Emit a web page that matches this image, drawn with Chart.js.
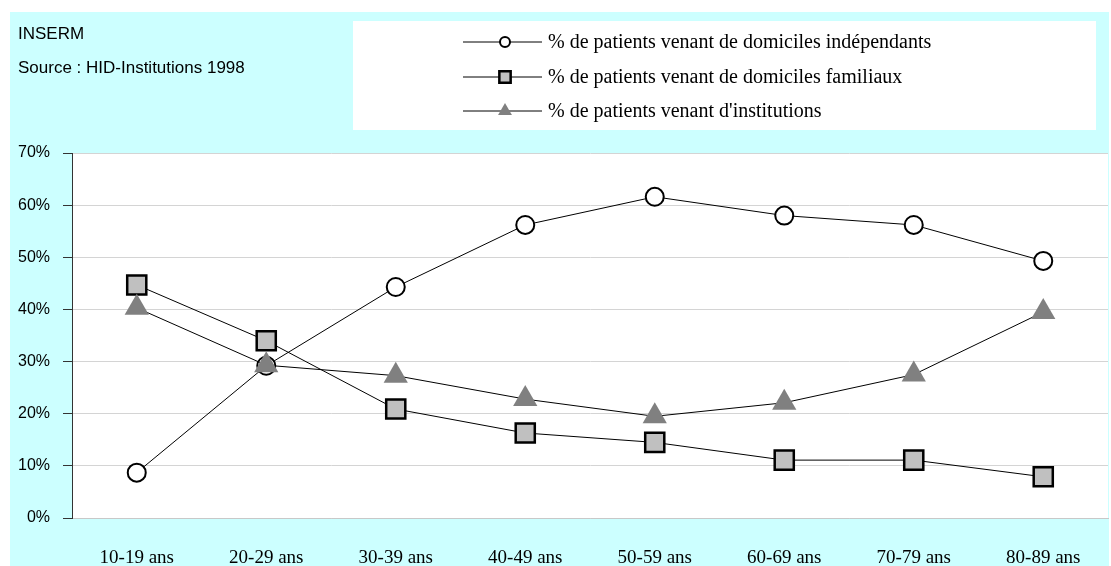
<!DOCTYPE html>
<html>
<head>
  <title>Origine des patients par âge</title>
  <style>
    body {
      margin: 0;
      padding: 0;
      background-color: #fff;
    }
    canvas {
      display: block;
    }
  </style>
</head>
<body>
<canvas id="patientChart" width="1111" height="566"></canvas>

<script src="https://cdn.jsdelivr.net/npm/chart.js"></script>
<script>
  // Données (en %)
  const ageGroups = ['10-19 ans', '20-29 ans', '30-39 ans', '40-49 ans', '50-59 ans', '60-69 ans', '70-79 ans', '80-89 ans'];
  const independants = [8.7, 29.2, 44.3, 56.2, 61.6, 58.0, 56.2, 49.3];
  const familiaux = [44.7, 34.0, 20.9, 16.3, 14.5, 11.1, 11.1, 7.9];
  const institutions = [40.3, 29.3, 27.3, 22.8, 19.5, 22.1, 27.5, 39.5];
  const seriesNames = [
    '% de patients venant de domiciles indépendants',
    '% de patients venant de domiciles familiaux',
    "% de patients venant d'institutions"
  ];
  const yMin = 0, yMax = 70, yStep = 10;

  const CYAN = '#ccffff';

  // Fond, textes source et légende
  const decorPlugin = {
    id: 'decor',
    beforeDraw(chart) {
      const ctx = chart.ctx;
      const a = chart.chartArea;
      ctx.save();
      ctx.fillStyle = '#fff';
      ctx.fillRect(0, 0, chart.width, chart.height);
      ctx.fillStyle = CYAN;
      ctx.fillRect(10, 12, 1099, 554);
      ctx.fillStyle = '#fff';
      ctx.fillRect(a.left, a.top, a.right - a.left, a.bottom - a.top);

      ctx.fillStyle = '#000';
      ctx.font = '17px "Liberation Sans", Arial, sans-serif';
      ctx.textBaseline = 'middle';
      ctx.fillText('INSERM', 18, 34);
      ctx.fillText('Source : HID-Institutions 1998', 18, 68);

      // boîte de légende
      ctx.fillStyle = '#fff';
      ctx.fillRect(353, 21, 743, 109);
      ctx.restore();
    },
    afterDraw(chart) {
      const ctx = chart.ctx;
      const rows = [42, 77, 111];
      ctx.save();
      chart.data.datasets.forEach((ds, i) => {
        const y = rows[i];
        ctx.strokeStyle = '#000';
        ctx.lineWidth = 1;
        ctx.beginPath();
        ctx.moveTo(463, y);
        ctx.lineTo(542, y);
        ctx.stroke();
        ctx.fillStyle = ds.pointBackgroundColor;
        ctx.strokeStyle = ds.pointBorderColor;
        ctx.lineWidth = ds.pointBorderWidth;
        Chart.helpers.drawPoint(ctx, {
          pointStyle: ds.pointStyle,
          radius: ds.legendRadius,
          borderWidth: ds.pointBorderWidth,
          rotation: 0
        }, 505, y);
        ctx.fillStyle = '#000';
        ctx.font = '20px "Liberation Serif", "Times New Roman", serif';
        ctx.textBaseline = 'middle';
        ctx.fillText(ds.label, 548, y + 1);
      });
      ctx.restore();
    }
  };

  const ctx = document.getElementById('patientChart').getContext('2d');
  new Chart(ctx, {
    type: 'line',
    data: {
      labels: ageGroups,
      datasets: [
        {
          label: seriesNames[0],
          data: independants,
          borderColor: '#000',
          borderWidth: 1,
          pointStyle: 'circle',
          pointRadius: 9,
          legendRadius: 5,
          pointBorderWidth: 2,
          pointBackgroundColor: '#fff',
          pointBorderColor: '#000',
          order: 2
        },
        {
          label: seriesNames[1],
          data: familiaux,
          borderColor: '#000',
          borderWidth: 1,
          pointStyle: 'rect',
          pointRadius: 13.5,
          legendRadius: 8,
          pointBorderWidth: 2.5,
          pointBackgroundColor: '#c0c0c0',
          pointBorderColor: '#000',
          order: 1
        },
        {
          label: seriesNames[2],
          data: institutions,
          borderColor: '#000',
          borderWidth: 1,
          pointStyle: 'triangle',
          pointRadius: 14,
          legendRadius: 8,
          pointBorderWidth: 0,
          pointBackgroundColor: '#808080',
          pointBorderColor: '#808080',
          order: 0
        }
      ]
    },
    options: {
      responsive: false,
      animation: false,
      layout: {
        autoPadding: false,
        padding: { top: 153, right: 3, left: 0, bottom: 0 }
      },
      plugins: {
        legend: { display: false },
        tooltip: { enabled: false }
      },
      scales: {
        x: {
          offset: true,
          grid: {
            drawOnChartArea: false,
            drawTicks: false
          },
          border: { color: '#c8c8c8' },
          ticks: {
            color: '#000',
            padding: 29,
            maxRotation: 0,
            autoSkip: false,
            font: { family: '"Liberation Serif", "Times New Roman", serif', size: 19 }
          },
          afterFit(s) { s.height = 48; }
        },
        y: {
          min: yMin,
          max: yMax,
          grid: {
            color: '#d4d4d4',
            tickColor: '#333',
            tickLength: 9
          },
          border: { color: '#333' },
          ticks: {
            stepSize: yStep,
            color: '#000',
            padding: 13,
            font: { family: '"Liberation Sans", Arial, sans-serif', size: 16 },
            callback: v => v + '%'
          },
          afterFit(s) { s.width = 72; }
        }
      }
    },
    plugins: [decorPlugin]
  });
</script>
</body>
</html>
